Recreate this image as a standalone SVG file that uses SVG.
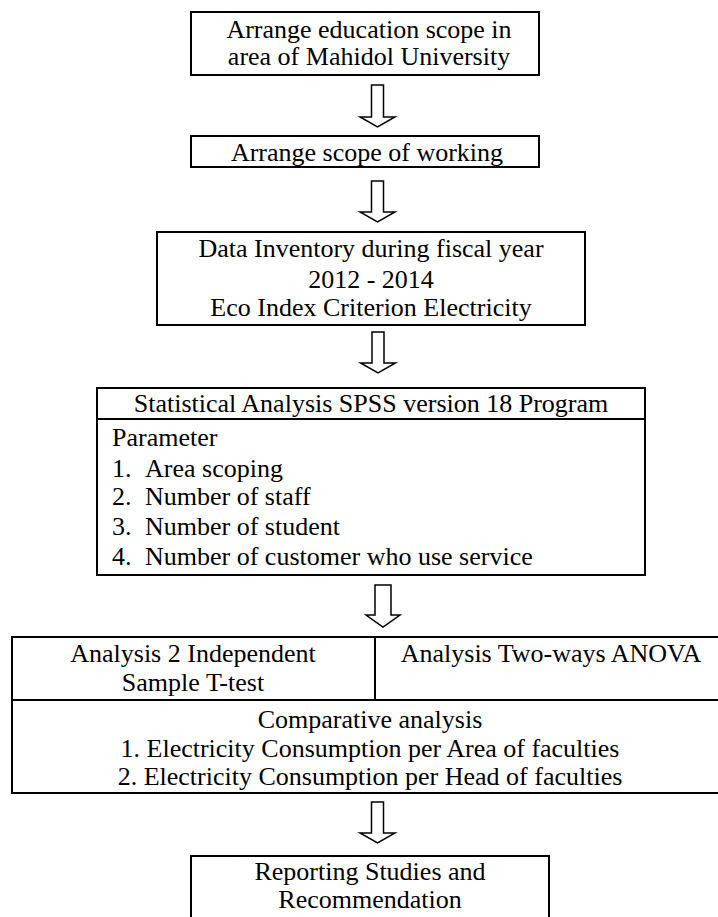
<svg xmlns="http://www.w3.org/2000/svg" width="718" height="917" viewBox="0 0 718 917">
  <style>
    .box { fill: #ffffff; stroke: #000000; stroke-width: 2; }
    .rule { stroke: #000000; stroke-width: 2; fill: none; }
    .arrow { fill: #ffffff; stroke: #000000; stroke-width: 1.5; stroke-linejoin: miter; }
    .c { text-anchor: middle; }
  </style>
  <rect width="718" height="917" fill="#ffffff"/>

  <g id="connectors">
    <path class="arrow" d="M371.5,85 H383.5 V117 H395 L377.5,127 L360,117 H371.5 Z"/>
    <path class="arrow" d="M371.5,181 H383.5 V212 H395 L377.5,222 L360,212 H371.5 Z"/>
    <path class="arrow" d="M372,332 H384 V363 H395.5 L378,373 L360.5,363 H372 Z"/>
    <path class="arrow" d="M375,585 H391 V615 H400 L383,627 L366,615 H375 Z"/>
    <path class="arrow" d="M371.5,802 H383.5 V833 H395 L377.5,843 L360,833 H371.5 Z"/>
  </g>

  <g font-family="Liberation Serif, Times New Roman, Times, serif" font-size="26" fill="#000000">
    <g id="scope-area">
      <rect class="box" x="191" y="12" width="348" height="63"/>
      <text class="c" x="369" y="38">Arrange education scope in</text>
      <text class="c" x="369" y="65">area of Mahidol University</text>
    </g>

    <g id="scope-working">
      <rect class="box" x="191" y="136" width="348" height="31"/>
      <text class="c" x="367" y="161">Arrange scope of working</text>
    </g>

    <g id="data-inventory">
      <rect class="box" x="157" y="232" width="428" height="93"/>
      <text class="c" x="371" y="257">Data Inventory during fiscal year</text>
      <text class="c" x="371" y="288">2012 - 2014</text>
      <text class="c" x="371" y="316">Eco Index Criterion Electricity</text>
    </g>

    <g id="statistical-analysis">
      <rect class="box" x="97" y="388" width="548" height="187"/>
      <line class="rule" x1="97" y1="419" x2="645" y2="419"/>
      <text class="c" x="371" y="412">Statistical Analysis SPSS version 18 Program</text>
      <text x="112" y="446">Parameter</text>
      <text x="112" y="477">1.</text><text x="145" y="477">Area scoping</text>
      <text x="112" y="505">2.</text><text x="145" y="505">Number of staff</text>
      <text x="112" y="535">3.</text><text x="145" y="535">Number of student</text>
      <text x="112" y="565">4.</text><text x="145" y="565">Number of customer who use service</text>
    </g>

    <g id="comparative-analysis">
      <rect class="box" x="12" y="637" width="716" height="156"/>
      <line class="rule" x1="12" y1="700" x2="728" y2="700"/>
      <line class="rule" x1="375" y1="637" x2="375" y2="700"/>
      <text class="c" x="193" y="662">Analysis 2 Independent</text>
      <text class="c" x="193" y="691">Sample T-test</text>
      <text class="c" x="551" y="662">Analysis Two-ways ANOVA</text>
      <text class="c" x="370" y="728">Comparative analysis</text>
      <text class="c" x="370" y="757">1. Electricity Consumption per Area of faculties</text>
      <text class="c" x="370" y="785">2. Electricity Consumption per Head of faculties</text>
    </g>

    <g id="reporting">
      <rect class="box" x="191" y="856" width="358" height="80"/>
      <text class="c" x="370" y="880">Reporting Studies and</text>
      <text class="c" x="370" y="908">Recommendation</text>
    </g>
  </g>
</svg>
